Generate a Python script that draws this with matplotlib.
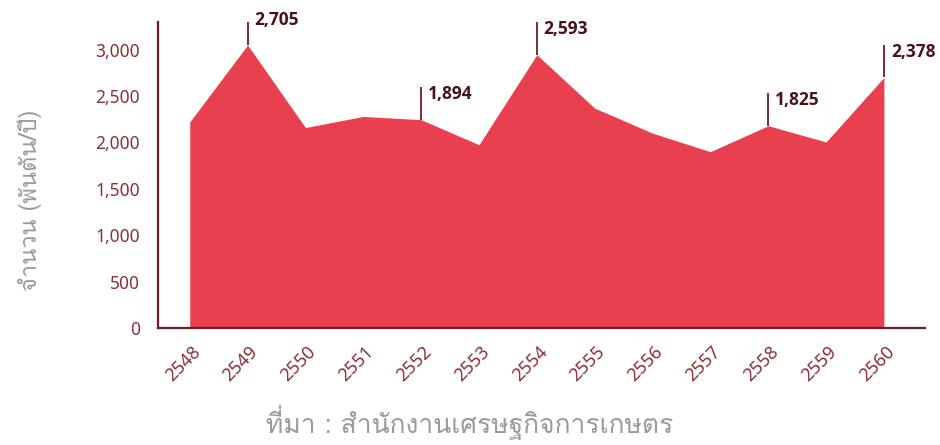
import matplotlib
matplotlib.use("Agg")
import matplotlib.pyplot as plt
import matplotlib.transforms as mtransforms
from matplotlib import font_manager
from matplotlib.ft2font import FT2Font

# data
years = ["2548", "2549", "2550", "2551", "2552", "2553", "2554",
         "2555", "2556", "2557", "2558", "2559", "2560"]
amount = [2220, 3050, 2160, 2280, 2245, 1975, 2945,
          2370, 2100, 1900, 2180, 2005, 2700]
label_idx = [1, 4, 6, 10, 12]
label_txt = ["2,705", "1,894", "2,593", "1,825", "2,378"]
yticks = [0, 500, 1000, 1500, 2000, 2500, 3000]
ylabel = "จำนวน (พันตัน/ปี)"
source = "ที่มา : สำนักงานเศรษฐกิจการเกษตร"


def find_thai_font():
    # first installed family that has Thai glyphs
    for f in font_manager.fontManager.ttflist:
        try:
            cmap = FT2Font(f.fname).get_charmap()
        except Exception:
            continue
        if 0x0E08 in cmap and 0x0E33 in cmap:
            return [f.name]
    return []


thai_fams = find_thai_font() + ["Noto Sans", "DejaVu Sans"]
plt.rcParams["font.family"] = ["Noto Sans", "DejaVu Sans"]

red = "#e8404f"
maroon = "#6e1c24"
ticklab = "#8a3036"
grey = "#9a9a9a"

fig = plt.figure(figsize=(9.4, 4.45), dpi=100)
ax = fig.add_axes([0.168, 0.263, 0.816, 0.688])

x = list(range(len(years)))
ax.fill_between(x, amount, 0, color=red, linewidth=0)

ax.set_xlim(-0.55, 12.71)
ax.set_ylim(0, 3300)
ax.set_yticks(yticks)
ax.set_yticklabels([f"{v:,}" for v in yticks])
ax.set_xticks(x)
ax.set_xticklabels(years, rotation=45, ha="right")
ax.tick_params(axis="y", length=0, pad=13, labelsize=12.5, labelcolor=ticklab)
ax.tick_params(axis="x", length=0, pad=11, labelsize=13, labelcolor=ticklab)
shift = mtransforms.ScaledTranslation(14 / 100, 0, fig.dpi_scale_trans)
for lab in ax.get_xticklabels():
    lab.set_transform(lab.get_transform() + shift)

for s in ["top", "right"]:
    ax.spines[s].set_visible(False)
for s in ["left", "bottom"]:
    ax.spines[s].set_color(maroon)
    ax.spines[s].set_linewidth(1.6)

# value callouts
for i, t in zip(label_idx, label_txt):
    y0 = amount[i]
    y1 = y0 + 355
    ax.plot([i, i], [y0, y1], color=maroon, lw=1.3, solid_capstyle="butt")
    ax.annotate(t, (i, y1), xytext=(5, 1), textcoords="offset points",
                ha="left", va="top", fontsize=12.5, fontweight="bold",
                family=["Open Sans", "DejaVu Sans"],
                color="#4a1218", annotation_clip=False)

fig.text(30 / 940, 1 - 200 / 445, ylabel, rotation=90, ha="center",
         va="center", fontsize=17, color=grey, family=thai_fams)
fig.text(470 / 940, 1 - 422 / 445, source, ha="center", va="center",
         fontsize=19, color=grey, family=thai_fams)

fig.savefig("out.png", dpi=100)
